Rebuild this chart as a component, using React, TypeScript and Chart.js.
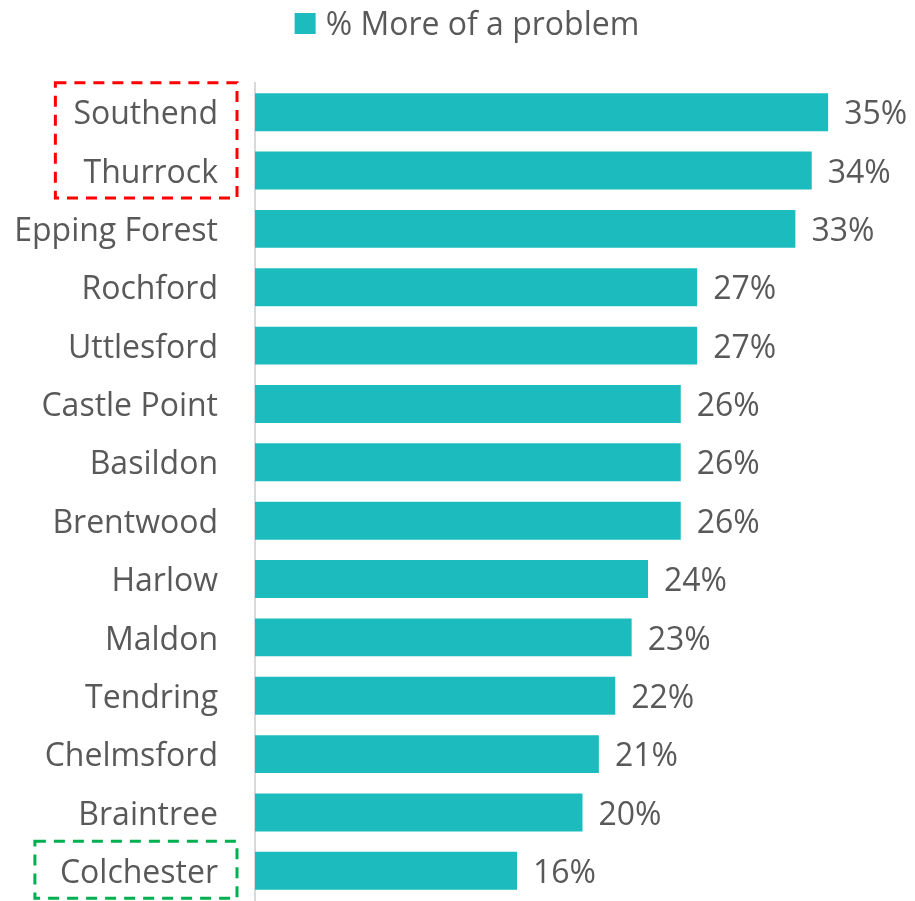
import React, { useEffect, useRef } from "react";
import { Chart, registerables } from "chart.js";

Chart.register(...registerables);

const categories = [
  "Southend", "Thurrock", "Epping Forest", "Rochford", "Uttlesford", "Castle Point",
  "Basildon", "Brentwood", "Harlow", "Maldon", "Tendring", "Chelmsford", "Braintree", "Colchester",
];
const moreOfAProblem = [35, 34, 33, 27, 27, 26, 26, 26, 24, 23, 22, 21, 20, 16];
const seriesName = "% More of a problem";
const redGroup = ["Southend", "Thurrock"];
const greenGroup = ["Colchester"];

const FONT = "'Open Sans', sans-serif";
const FS = 32;
const TEXT = "#595959";
const TEAL = "#1CBBBE";

const valueLabels = {
  id: "valueLabels",
  afterDatasetsDraw(chart: any) {
    const ctx = chart.ctx;
    const meta = chart.getDatasetMeta(0);
    ctx.save();
    ctx.font = `${FS}px ${FONT}`;
    ctx.fillStyle = TEXT;
    ctx.textAlign = "left";
    ctx.textBaseline = "middle";
    meta.data.forEach((bar: any, i: number) => {
      ctx.fillText(moreOfAProblem[i] + "%", bar.x + 16, bar.y + 3);
    });
    ctx.restore();
  },
};

const topLegend = {
  id: "topLegend",
  afterDraw(chart: any) {
    const ctx = chart.ctx;
    ctx.save();
    ctx.font = `${FS}px ${FONT}`;
    const tw = ctx.measureText(seriesName).width;
    const total = 21 + 10 + tw;
    const x0 = 467 - total / 2;
    const cy = 23.5;
    ctx.fillStyle = TEAL;
    ctx.fillRect(x0, cy - 10.5, 21, 21);
    ctx.fillStyle = TEXT;
    ctx.textAlign = "left";
    ctx.textBaseline = "middle";
    ctx.fillText(seriesName, x0 + 31, cy + 2);
    ctx.restore();
  },
};

const groupBoxes = {
  id: "groupBoxes",
  afterDraw(chart: any) {
    const ctx = chart.ctx;
    const y = chart.scales.y;
    const labelRight = chart.chartArea.left - 37;
    const drawBox = (names: string[], color: string, pad: number) => {
      const idx = names.map((n) => categories.indexOf(n));
      ctx.save();
      ctx.font = `${FS}px ${FONT}`;
      const maxW = Math.max(...names.map((n) => ctx.measureText(n).width));
      const top = y.getPixelForValue(Math.min(...idx)) - 29.5;
      const bottom = y.getPixelForValue(Math.max(...idx)) + 27.5;
      const left = labelRight - maxW - pad;
      const right = chart.chartArea.left - 18;
      ctx.strokeStyle = color;
      ctx.lineWidth = 3;
      ctx.setLineDash([11, 8]);
      ctx.strokeRect(left, top, right - left, bottom - top);
      ctx.restore();
    };
    drawBox(redGroup, "#FF0000", 18);
    drawBox(greenGroup, "#00B050", 25);
  },
};

export default function App() {
  const ref = useRef<HTMLCanvasElement>(null);
  useEffect(() => {
    if (!ref.current) return;
    const chart = new Chart(ref.current, {
      type: "bar",
      data: {
        labels: categories,
        datasets: [
          {
            label: seriesName,
            data: moreOfAProblem,
            backgroundColor: TEAL,
            barPercentage: 0.65,
            categoryPercentage: 1,
          },
        ],
      },
      options: {
        indexAxis: "y",
        responsive: true,
        maintainAspectRatio: false,
        animation: false,
        layout: { padding: { top: 83, right: 5, bottom: 1, left: 0 } },
        plugins: {
          tooltip: { enabled: false },
          legend: { display: false },
        },
        scales: {
          x: {
            display: false,
            min: 0,
            max: 40,
          },
          y: {
            grid: { display: false, drawTicks: false },
            border: { display: true, color: "#D9D9D9", width: 2 },
            ticks: {
              font: { family: FONT, size: FS },
              color: TEXT,
              padding: 37,
              labelOffset: 3,
              autoSkip: false,
            },
            afterFit(scale: any) {
              scale.width = 255;
              scale.paddingTop = 0;
              scale.paddingBottom = 0;
            },
          },
        },
      },
      plugins: [valueLabels, groupBoxes, topLegend],
    });
    return () => chart.destroy();
  }, []);
  return (
    <div style={{ position: "fixed", left: 0, top: 0, width: 915, height: 901, background: "#fff" }}>
      <canvas ref={ref} />
    </div>
  );
}
